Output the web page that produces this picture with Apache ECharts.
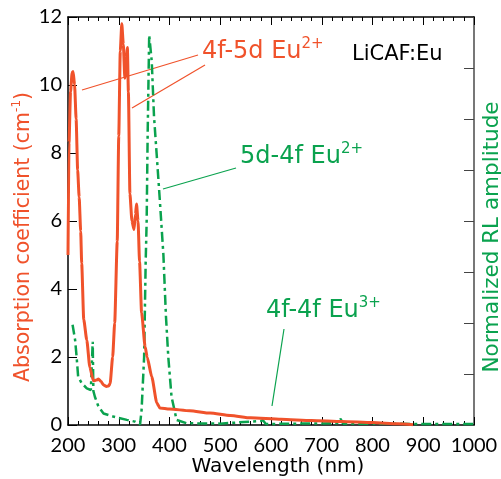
<!DOCTYPE html>
<html>
<head>
<meta charset="utf-8">
<script src="https://cdn.jsdelivr.net/npm/echarts@6/dist/echarts.min.js"></script>
<style>
html,body{margin:0;padding:0;background:#fff;}
#c{width:501px;height:479px;}
</style>
</head>
<body>
<div id="c"></div>
<script>
// Absorption (left axis, cm^-1)
const absWavelength = [200,202,205,208,210,213,216,219,222,225,227,231,237,243,250,256,260,265,270,276,280,283,288,292,297,300,303,306,309,312,315,317,319,322,326,330,333,335,338,341,345,352,356,365,375,381,400,440,480,520,560,620,680,740,800,850,880];
const absValues     = [5.0,8.3,9.8,10.35,10.4,10.0,9.0,7.5,6.7,5.7,4.75,3.1,2.5,1.7,1.3,1.32,1.35,1.28,1.18,1.13,1.15,1.22,2.0,3.0,5.4,8.5,11.0,11.8,11.2,10.2,10.8,11.1,9.8,6.8,6.0,5.75,6.2,6.5,6.0,4.8,3.3,2.3,2.0,1.42,0.65,0.5,0.47,0.42,0.35,0.28,0.21,0.17,0.13,0.1,0.07,0.04,0.01];
// Radioluminescence (right axis, normalized)
const rlWavelength = [209,214,217,220,227,237,245,247,248.7,250,253,260,270,289,316,332,342,345,350,353,355,357,360,365,369.5,375,381,388,393,397.6,404,414,434,500,580,584,590,650,730,737,742,800,900,1000];
const rlValues     = [0.295,0.25,0.2,0.142,0.123,0.108,0.103,0.105,0.245,0.1,0.083,0.054,0.034,0.025,0.015,0.01,0.002,0.044,0.2,0.475,0.6,0.86,1.147,1.07,0.907,0.79,0.66,0.5,0.32,0.2,0.083,0.015,0.005,0.004,0.012,0.014,0.003,0.004,0.005,0.018,0.004,0.004,0.003,0.003];
// Axis ticks
const xTicks = {min:200, max:1000, interval:100};
const yLeftTicks = {min:0, max:12, interval:2};
const yRightTicks = {min:0, max:1.2, interval:0.15};

const RED = '#f0522b';
const GREEN = '#0aa24e';
const NUMFONT = 'Lato';
const FONT = 'DejaVu Sans';

const chart = echarts.init(document.getElementById('c'), null, {renderer:'canvas'});

const absData = absWavelength.map((w,i)=>[w, absValues[i]]);
const rlData = rlWavelength.map((w,i)=>[w, rlValues[i]]);

const xCommon = {
  type:'value', min:xTicks.min, max:xTicks.max, interval:xTicks.interval,
  axisLine:{show:true, onZero:false, lineStyle:{color:'#000', width:1.5}},
  axisTick:{show:true, inside:true, length:8, lineStyle:{color:'#000', width:1}},
  minorTick:{show:true, splitNumber:5, length:4, lineStyle:{color:'#000', width:1}},
  splitLine:{show:false}
};

const sup = (fill, size) => ({fontSize:size, fontFamily:FONT, fill:fill, verticalAlign:'top', lineHeight:30});
const main = (fill) => ({fontSize:24, fontFamily:FONT, fill:fill, lineHeight:30});

chart.setOption({
  animation:false,
  backgroundColor:'#fff',
  grid:{left:68, right:27, top:17, bottom:54, containLabel:false},
  xAxis:[
    Object.assign({}, xCommon, {position:'bottom',
      axisLabel:{show:true, color:'#000', fontSize:20, fontFamily:NUMFONT, margin:11, formatter:(v)=>String(v)}}),
    Object.assign({}, xCommon, {position:'top', axisLabel:{show:false}})
  ],
  yAxis:[
    {type:'value', position:'left', min:yLeftTicks.min, max:yLeftTicks.max, interval:yLeftTicks.interval,
     axisLine:{show:true, onZero:false, lineStyle:{color:'#000', width:1.5}},
     axisTick:{show:true, inside:true, length:9, lineStyle:{color:'#000'}},
     axisLabel:{show:true, color:'#000', fontSize:20, fontFamily:NUMFONT, margin:6},
     splitLine:{show:false}},
    {type:'value', position:'right', min:yRightTicks.min, max:yRightTicks.max, interval:yRightTicks.interval,
     axisLine:{show:true, onZero:false, lineStyle:{color:'#777', width:2}},
     axisTick:{show:true, inside:true, length:10, lineStyle:{color:'#444'}},
     axisLabel:{show:false},
     splitLine:{show:false}}
  ],
  series:[
    {type:'line', name:'RL', xAxisIndex:0, yAxisIndex:1, data:rlData, showSymbol:false,
     lineStyle:{color:GREEN, width:2.5, type:[10,4,3,4]}, z:2},
    {type:'line', name:'Absorption', xAxisIndex:0, yAxisIndex:0, data:absData, showSymbol:false,
     smooth:0.2, smoothMonotone:'x',
     lineStyle:{color:RED, width:3}, z:3}
  ],
  graphic:[
    // leader lines
    {type:'line', shape:{x1:82, y1:90, x2:198, y2:55}, style:{stroke:RED, lineWidth:1.2}},
    {type:'line', shape:{x1:132, y1:108, x2:205, y2:65}, style:{stroke:RED, lineWidth:1.2}},
    {type:'line', shape:{x1:163, y1:189, x2:236, y2:168}, style:{stroke:GREEN, lineWidth:1.2}},
    {type:'line', shape:{x1:284, y1:329, x2:272, y2:406}, style:{stroke:GREEN, lineWidth:1.2}},
    // annotations
    {type:'text', left:202, top:37, style:{text:'{m|4f-5d Eu}{s|2+}', rich:{m:main(RED), s:sup(RED,15)}}},
    {type:'text', left:240, top:142, style:{text:'{m|5d-4f Eu}{s|2+}', rich:{m:main(GREEN), s:sup(GREEN,15)}}},
    {type:'text', left:266, top:296, style:{text:'{m|4f-4f Eu}{s|3+}', rich:{m:main(GREEN), s:sup(GREEN,15)}}},
    {type:'text', left:352, top:44, style:{text:'LiCAF:Eu', fontSize:21, fontFamily:FONT, fill:'#000'}},
    // axis names
    {type:'text', x:24, y:237, rotation:Math.PI/2, style:{text:'{m|Absorption coefficient (cm}{s|-1}{m|)}',
      align:'center', verticalAlign:'middle',
      rich:{m:{fontSize:20.5, fontFamily:FONT, fill:RED, lineHeight:26}, s:{fontSize:12, fontFamily:FONT, fill:RED, verticalAlign:'top', lineHeight:26}}}},
    {type:'text', x:492, y:237, rotation:Math.PI/2, style:{text:'Normalized RL amplitude',
      align:'center', verticalAlign:'middle', fontSize:21.5, fontFamily:FONT, fill:GREEN}},
    {type:'text', x:278, y:467, style:{text:'Wavelength (nm)', align:'center', verticalAlign:'middle', fontSize:20, fontFamily:FONT, fill:'#000'}}
  ]
});
</script>
</body>
</html>
